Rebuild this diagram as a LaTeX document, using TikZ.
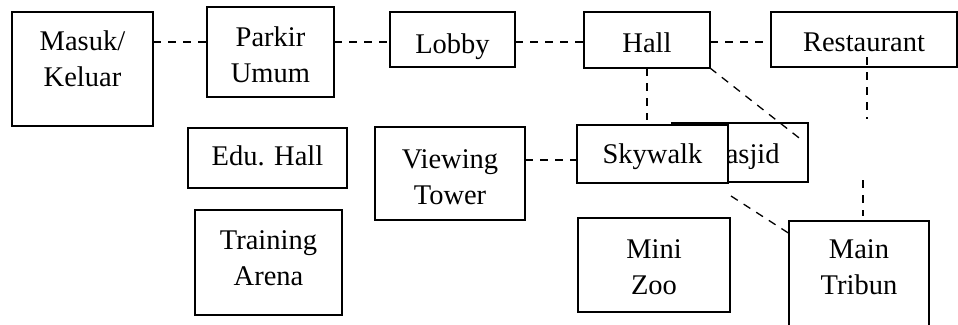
\documentclass[tikz,border=0pt]{standalone}
\usepackage{fontspec}
\setmainfont{Liberation Serif}
\usetikzlibrary{calc}
\newcommand\roomfont{\fontsize{28.5}{36}\selectfont}
% width, height, first baseline below the top edge, text
\newcommand\roomtext[4]{\parbox[c][#2pt][t]{#1pt}{\roomfont\centering\rule{0pt}{#3pt}#4}}
\tikzset{
  room/.style={draw=black, line width=2pt, fill=white, inner sep=0pt, outer sep=0pt, anchor=north west},
  link/.style={draw=black, line width=1.3pt, dash pattern=on 8pt off 7pt},
}
\begin{document}
\begin{tikzpicture}[x=1pt,y=-1pt]
\useasboundingbox (0,0) rectangle (958,324);
\clip (0,0) rectangle (958,324);
\fill[white] (0,0) rectangle (958,324);

% rooms
\node[room] (masuk)    at (12,12)   {\roomtext{141}{114}{38}{Masuk/\\Keluar}};
\node[room] (parkir)   at (207,7)   {\roomtext{127}{90}{39}{Parkir\\Umum}};
\node[room] (lobby)    at (390,12)  {\roomtext{125}{55}{41}{Lobby}};
\node[room] (hall)     at (584,12)  {\roomtext{126}{56}{40}{Hall}};
\node[room] (resto)    at (771,12)  {\roomtext{186}{55}{39}{Restaurant}};
\node[room] (edu)      at (188,128) {\roomtext{159}{60}{37}{Edu. Hall}};
\node[room] (training) at (195,210) {\roomtext{147}{105}{39}{Training\\Arena}};
\node[room] (tower)    at (375,127) {\roomtext{150}{93}{41}{Viewing\\Tower}};
\node[room] (masjid)   at (672,123) {\roomtext{136}{59}{40}{Masjid}};
\node[room] (skywalk)  at (577,125) {\roomtext{151}{58}{38}{Skywalk}};
\node[room] (zoo)      at (578,218) {\roomtext{152}{94}{40}{Mini\\Zoo}};
\node[room] (tribun)   at (789,221) {\roomtext{140}{125}{37}{Main\\Tribun}};

% free ends of the connectors
\coordinate (row)     at (0,42);
\coordinate (walkrow) at (0,160);
\coordinate (hallend) at ($(masjid.north east)+(-5,18)$);
\coordinate (swfoot)  at ($(skywalk.south east)+(3,13)$);
\coordinate (trhead)  at ($(tribun.north west)+(4,15)$);
\coordinate (rtop)    at ($(resto.south)+(3,-10)$);
\coordinate (rbot)    at ($(resto.south)+(3,52)$);
\coordinate (ttop)    at ($(tribun.north)+(4,-41)$);
\coordinate (tbot)    at ($(tribun.north)+(4,-5)$);

% connectors
\draw[link] (masuk.east |- row)  -- (parkir.west |- row);
\draw[link] (parkir.east |- row) -- (lobby.west |- row);
\draw[link] (lobby.east |- row)  -- (hall.west |- row);
\draw[link] (hall.east |- row)   -- (resto.west |- row);
\draw[link] (hall.south) -- ($(hall.south |- skywalk.north)+(0,-5)$);
\draw[link] (hall.south east) -- (hallend);
\draw[link] (tower.east |- walkrow) -- (skywalk.west |- walkrow);
\draw[link] (swfoot) -- (trhead);
\draw[link] (rtop) -- (rbot);
\draw[link] (ttop) -- (tbot);
\end{tikzpicture}
\end{document}
